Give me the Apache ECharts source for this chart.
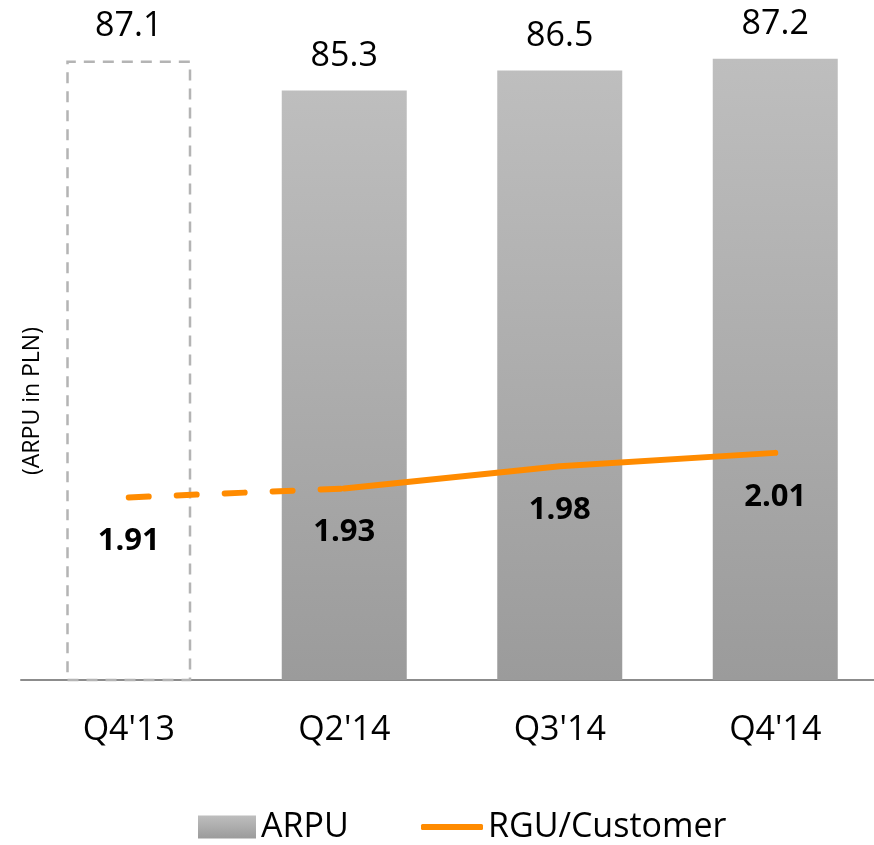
<!DOCTYPE html>
<html>
<head>
<meta charset="utf-8">
<script src="https://cdn.jsdelivr.net/npm/echarts@6/dist/echarts.min.js"></script>
<style>
html,body{margin:0;padding:0;background:#fff;overflow:hidden;}
#chart{width:884px;height:845px;}
</style>
</head>
<body>
<div id="chart"></div>
<script>
var categories = ["Q4'13", "Q2'14", "Q3'14", "Q4'14"];
var arpu = [87.1, 85.3, 86.5, 87.2];
var rgu = [1.91, 1.93, 1.98, 2.01];
var yAxisTitle = "(ARPU in PLN)";
var FONT = "'Open Sans', 'Liberation Sans', sans-serif";
var ORANGE = '#FF8B00';

var chart = echarts.init(document.getElementById('chart'));

var barGrad = new echarts.graphic.LinearGradient(0, 0, 0, 1, [
  {offset: 0, color: '#BEBEBE'},
  {offset: 1, color: '#9B9B9B'}
]);

var barData = arpu.map(function (v, i) {
  if (i === 0) {
    return {
      value: v,
      itemStyle: {
        color: 'rgba(255,255,255,0)',
        borderColor: '#B4B4B4',
        borderWidth: 2.5,
        borderType: [11, 8]
      }
    };
  }
  return v;
});

var dashedData = rgu.map(function (v, i) { return i <= 1 ? v : '-'; });
var solidData = rgu.map(function (v, i) { return i >= 1 ? v : '-'; });

var lineLabel = {
  show: true,
  position: 'inside',
  offset: [0, 44],
  fontFamily: FONT,
  fontWeight: 'bold',
  fontSize: 31,
  color: '#000'
};

chart.setOption({
  animation: false,
  backgroundColor: '#fff',
  grid: {left: 21, top: 12, width: 862, height: 668, containLabel: false},
  xAxis: {
    type: 'category',
    data: categories,
    axisLine: {show: true, lineStyle: {color: '#8C8C8C', width: 2}},
    axisTick: {show: false},
    axisLabel: {fontFamily: FONT, fontSize: 34, color: '#000', margin: 33}
  },
  yAxis: [
    {type: 'value', min: 50, max: 90, show: false, splitLine: {show: false}},
    {type: 'value', min: 1.5, max: 3.0, show: false, splitLine: {show: false}}
  ],
  legend: [
    {
      data: [{name: 'ARPU', icon: 'rect'}],
      left: 198, top: 808, padding: 0,
      itemWidth: 58, itemHeight: 23,
      textStyle: {fontFamily: FONT, fontSize: 34, color: '#000', lineHeight: 38}
    },
    {
      data: [{name: 'RGU/Customer', icon: 'roundRect'}],
      left: 421, top: 808, padding: 0,
      itemWidth: 62, itemHeight: 6,
      textStyle: {fontFamily: FONT, fontSize: 34, color: '#000', lineHeight: 38}
    }
  ],
  graphic: [{
    type: 'text',
    x: 32, y: 401,
    rotation: Math.PI / 2,
    style: {
      text: yAxisTitle,
      fontFamily: FONT,
      fontSize: 23,
      fill: '#000',
      align: 'center',
      verticalAlign: 'middle'
    }
  }],
  series: [
    {
      name: 'ARPU',
      type: 'bar',
      barWidth: 125,
      data: barData,
      itemStyle: {color: barGrad},
      label: {
        show: true,
        position: 'top',
        distance: 17,
        fontFamily: FONT,
        fontSize: 34,
        lineHeight: 34,
        color: '#000'
      }
    },
    {
      name: 'RGU/Customer',
      type: 'line',
      yAxisIndex: 1,
      data: dashedData,
      symbol: 'circle',
      symbolSize: 1,
      itemStyle: {color: ORANGE},
      lineStyle: {color: ORANGE, width: 6, type: [20, 28], cap: 'round'},
      label: Object.assign({}, lineLabel, {
        formatter: function (p) { return p.dataIndex === 0 ? p.value.toFixed(2) : ''; }
      }),
      z: 3
    },
    {
      name: 'RGU/Customer',
      type: 'line',
      yAxisIndex: 1,
      data: solidData,
      symbol: 'circle',
      symbolSize: 1,
      itemStyle: {color: ORANGE},
      lineStyle: {color: ORANGE, width: 6, cap: 'round'},
      label: Object.assign({}, lineLabel, {
        formatter: function (p) { return p.value.toFixed(2); }
      }),
      z: 3
    }
  ]
});
</script>
</body>
</html>
